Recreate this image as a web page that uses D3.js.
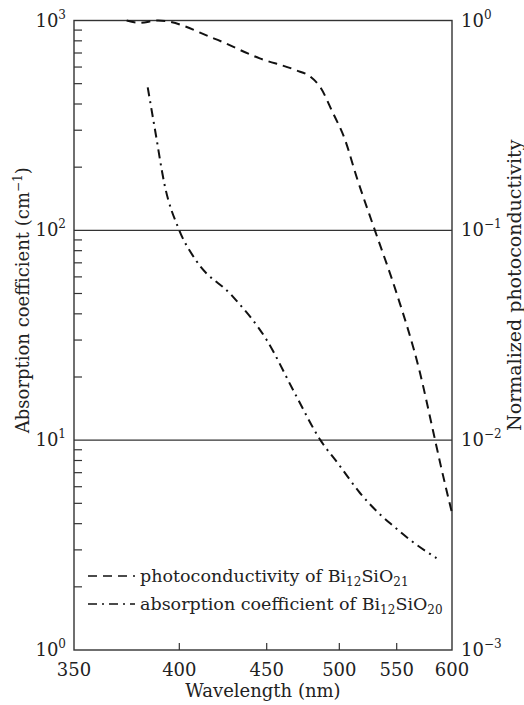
<!DOCTYPE html>
<html>
<head>
<meta charset="utf-8">
<script src="https://cdn.jsdelivr.net/npm/d3@7"></script>
<style>
  body { margin: 0; background: #fff; }
  text { font-family: "DejaVu Serif", serif; fill: #222; }
</style>
</head>
<body>
<div id="chart"></div>
<script>
const width = 524;
const height = 705;
const margin = { top: 20.5, right: 72, bottom: 55, left: 74 };

// wavelength ticks (the axis is not linear in wavelength)
const xTicks = [350, 400, 450, 500, 550, 600];
const xTickFrac = [0, 0.2786, 0.5098, 0.7019, 0.8537, 1];

// photoconductivity of Bi12SiO21 (normalized, right axis)
const photoWl = [375, 381, 390, 420, 446, 470, 480, 487, 495, 505, 515, 531, 550, 571, 583, 590, 600];
const photoVal = [1.0, 0.975, 1.0, 0.82, 0.66, 0.58, 0.54, 0.48, 0.37, 0.27, 0.18, 0.1, 0.05, 0.021, 0.011, 0.0075, 0.0045];

// absorption coefficient of Bi12SiO20 (cm^-1, left axis)
const absWl = [385, 388.5, 393, 400, 410, 430, 450, 470, 487, 500, 518, 536, 547, 562, 586];
const absVal = [480, 300, 165, 100, 71, 49, 30, 16.4, 10, 7.6, 5.6, 4.4, 3.9, 3.35, 2.74];

const leftTicks = [1, 10, 100, 1000];
const rightTicks = [0.001, 0.01, 0.1, 1];
const leftExp = ["0", "1", "2", "3"];
const rightExp = ["\u22123", "\u22122", "\u22121", "0"];

const iw = width - margin.left - margin.right;
const ih = height - margin.top - margin.bottom;

const x = d3.scaleLinear()
    .domain(xTicks)
    .range(xTickFrac.map(f => margin.left + f * iw));

const yLeft = d3.scaleLog()
    .domain([1, 1000])
    .range([margin.top + ih, margin.top]);

const yRight = d3.scaleLog()
    .domain([0.001, 1])
    .range([margin.top + ih, margin.top]);

const svg = d3.create("svg")
    .attr("width", width)
    .attr("height", height);

const axisColor = "#333";

// frame
svg.append("rect")
    .attr("x", margin.left)
    .attr("y", margin.top)
    .attr("width", iw)
    .attr("height", ih)
    .attr("fill", "none")
    .attr("stroke", axisColor)
    .attr("stroke-width", 1.4);

// gridlines at 10 and 100
svg.append("g")
    .selectAll("line")
    .data([10, 100])
    .join("line")
    .attr("x1", margin.left)
    .attr("x2", margin.left + iw)
    .attr("y1", d => yLeft(d))
    .attr("y2", d => yLeft(d))
    .attr("stroke", axisColor)
    .attr("stroke-width", 1.3);

// minor ticks on left axis, pointing inward
const minor = yLeft.ticks().filter(d => !leftTicks.includes(d));
svg.append("g")
    .selectAll("line")
    .data(minor)
    .join("line")
    .attr("x1", margin.left)
    .attr("x2", margin.left + 8)
    .attr("y1", d => yLeft(d))
    .attr("y2", d => yLeft(d))
    .attr("stroke", axisColor)
    .attr("stroke-width", 1.2);

// bottom ticks, inward
svg.append("g")
    .selectAll("line")
    .data(xTicks.slice(1, -1))
    .join("line")
    .attr("x1", d => x(d))
    .attr("x2", d => x(d))
    .attr("y1", margin.top + ih)
    .attr("y2", margin.top + ih - 7)
    .attr("stroke", axisColor)
    .attr("stroke-width", 1.2);

// x tick labels
svg.append("g")
    .selectAll("text")
    .data(xTicks)
    .join("text")
    .attr("x", d => x(d))
    .attr("y", margin.top + ih + 26)
    .attr("text-anchor", "middle")
    .attr("font-size", 18)
    .text(d => d);

// left tick labels 10^n
const lt = svg.append("g")
    .selectAll("text")
    .data(leftTicks)
    .join("text")
    .attr("x", margin.left - 8)
    .attr("y", d => yLeft(d) + 6)
    .attr("text-anchor", "end")
    .attr("font-size", 18);
lt.append("tspan").text("10");
lt.append("tspan").attr("dy", -8).attr("font-size", 12).text((d, i) => leftExp[i]);

// right tick labels 10^n
const rt = svg.append("g")
    .selectAll("text")
    .data(rightTicks)
    .join("text")
    .attr("x", margin.left + iw + 9)
    .attr("y", d => yRight(d) + 6)
    .attr("text-anchor", "start")
    .attr("font-size", 18);
rt.append("tspan").text("10");
rt.append("tspan").attr("dy", -8).attr("font-size", 12).text((d, i) => rightExp[i]);

// axis titles
svg.append("text")
    .attr("x", margin.left + iw / 2)
    .attr("y", 697)
    .attr("text-anchor", "middle")
    .attr("font-size", 18)
    .text("Wavelength (nm)");

const lTitle = svg.append("text")
    .attr("transform", `translate(29,${margin.top + ih / 2 - 35}) rotate(-90)`)
    .attr("text-anchor", "middle")
    .attr("font-size", 18);
lTitle.append("tspan").text("Absorption coefficient (cm");
lTitle.append("tspan").attr("dy", -7).attr("font-size", 12).text("\u22121");
lTitle.append("tspan").attr("dy", 7).text(")");

svg.append("text")
    .attr("transform", `translate(521,${margin.top + ih / 2 - 50}) rotate(-90)`)
    .attr("text-anchor", "middle")
    .attr("font-size", 19)
    .text("Normalized photoconductivity");

// curves
const photoLine = d3.line()
    .x(d => x(d[0]))
    .y(d => yRight(d[1]))
    .curve(d3.curveMonotoneX);

const absLine = d3.line()
    .x(d => x(d[0]))
    .y(d => yLeft(d[1]))
    .curve(d3.curveMonotoneX);

svg.append("path")
    .datum(photoWl.map((w, i) => [w, photoVal[i]]))
    .attr("d", photoLine)
    .attr("fill", "none")
    .attr("stroke", "#111")
    .attr("stroke-width", 2)
    .attr("stroke-dasharray", "9,6");

svg.append("path")
    .datum(absWl.map((w, i) => [w, absVal[i]]))
    .attr("d", absLine)
    .attr("fill", "none")
    .attr("stroke", "#111")
    .attr("stroke-width", 2)
    .attr("stroke-dasharray", "9,5,2,5");

// legend
const legend = [
    { dash: "9,6", main: "photoconductivity of Bi", sub1: "12", mid: "SiO", sub2: "21" },
    { dash: "9,5,2,5", main: "absorption coefficient of Bi", sub1: "12", mid: "SiO", sub2: "20" },
];

const lg = svg.append("g")
    .selectAll("g")
    .data(legend)
    .join("g")
    .attr("transform", (d, i) => `translate(88,${576 + i * 28})`);

lg.append("line")
    .attr("x1", 0)
    .attr("x2", 47)
    .attr("stroke", "#111")
    .attr("stroke-width", 1.6)
    .attr("stroke-dasharray", d => d.dash);

const lgt = lg.append("text")
    .attr("x", 52)
    .attr("y", 6)
    .attr("font-size", 17.5);
lgt.append("tspan").text(d => d.main);
lgt.append("tspan").attr("dy", 4).attr("font-size", 12).text(d => d.sub1);
lgt.append("tspan").attr("dy", -4).text(d => d.mid);
lgt.append("tspan").attr("dy", 4).attr("font-size", 12).text(d => d.sub2);

document.querySelector("#chart").append(svg.node());
</script>
</body>
</html>
